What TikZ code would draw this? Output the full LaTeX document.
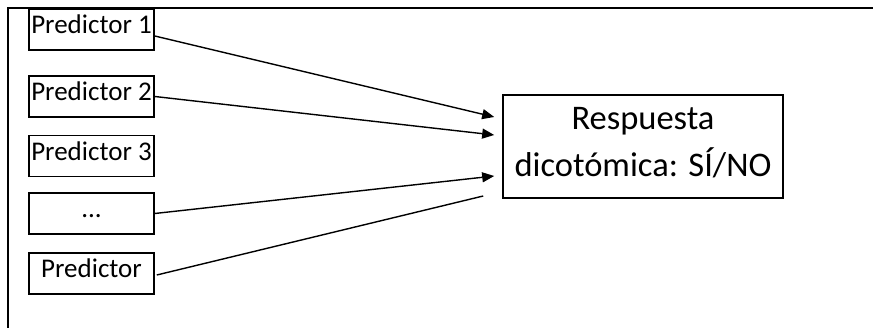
\documentclass[tikz,border=0pt]{standalone}
\usepackage{fontspec}
\setmainfont{Carlito}
\usetikzlibrary{arrows.meta,calc}
\tikzset{
  predbox/.style={draw, line width=1.6pt, inner sep=0pt, minimum width=125pt, minimum height=41pt,
    text height=18pt, text depth=9pt, font=\fontsize{27pt}{32pt}\selectfont},
  respbox/.style={draw, line width=1.6pt, inner sep=0pt},
  conn/.style={line width=1.4pt},
  arr/.style={conn, -{Triangle[length=12pt, width=10pt]}},
  frame/.style={line width=1.8pt}
}
\begin{document}
\begin{tikzpicture}[x=1pt, y=-1pt]
\useasboundingbox (0,0) rectangle (873,328);
\draw[frame] (8,328) -- (8,8) -- (873,8);
\node[predbox] (p1) at (91.5,29.5) {Predictor 1};
\node[predbox] (p2) at (91.5,96.5) {Predictor 2};
\node[predbox] (p3) at (91.5,156) {Predictor 3};
\node[predbox] (p4) at (91.5,213.5) {...};
\node[predbox] (p5) at (91.5,273.5) {Predictor};
\node[respbox] (r) at (643,146.5) {\parbox[c][103pt][t]{280pt}{\centering\fontsize{34.5pt}{47pt}\selectfont\rule{0pt}{35pt}Respuesta\\dicotómica: SÍ/NO}};
\coordinate (t1) at ($(r.west)+(-8,-29.5)$);
\coordinate (t2) at ($(r.west)+(-8,-11.5)$);
\coordinate (t4) at ($(r.west)+(-8,29.5)$);
\coordinate (t5) at ($(r.west)+(-19,49.5)$);
\draw[arr] ($(p1.east)+(0,6.5)$) -- (t1);
\draw[arr] (p2.east) -- (t2);
\draw[arr] (p4.east) -- (t4);
\draw[conn] ($(p5.east)+(2,1.5)$) -- (t5);
\end{tikzpicture}
\end{document}
